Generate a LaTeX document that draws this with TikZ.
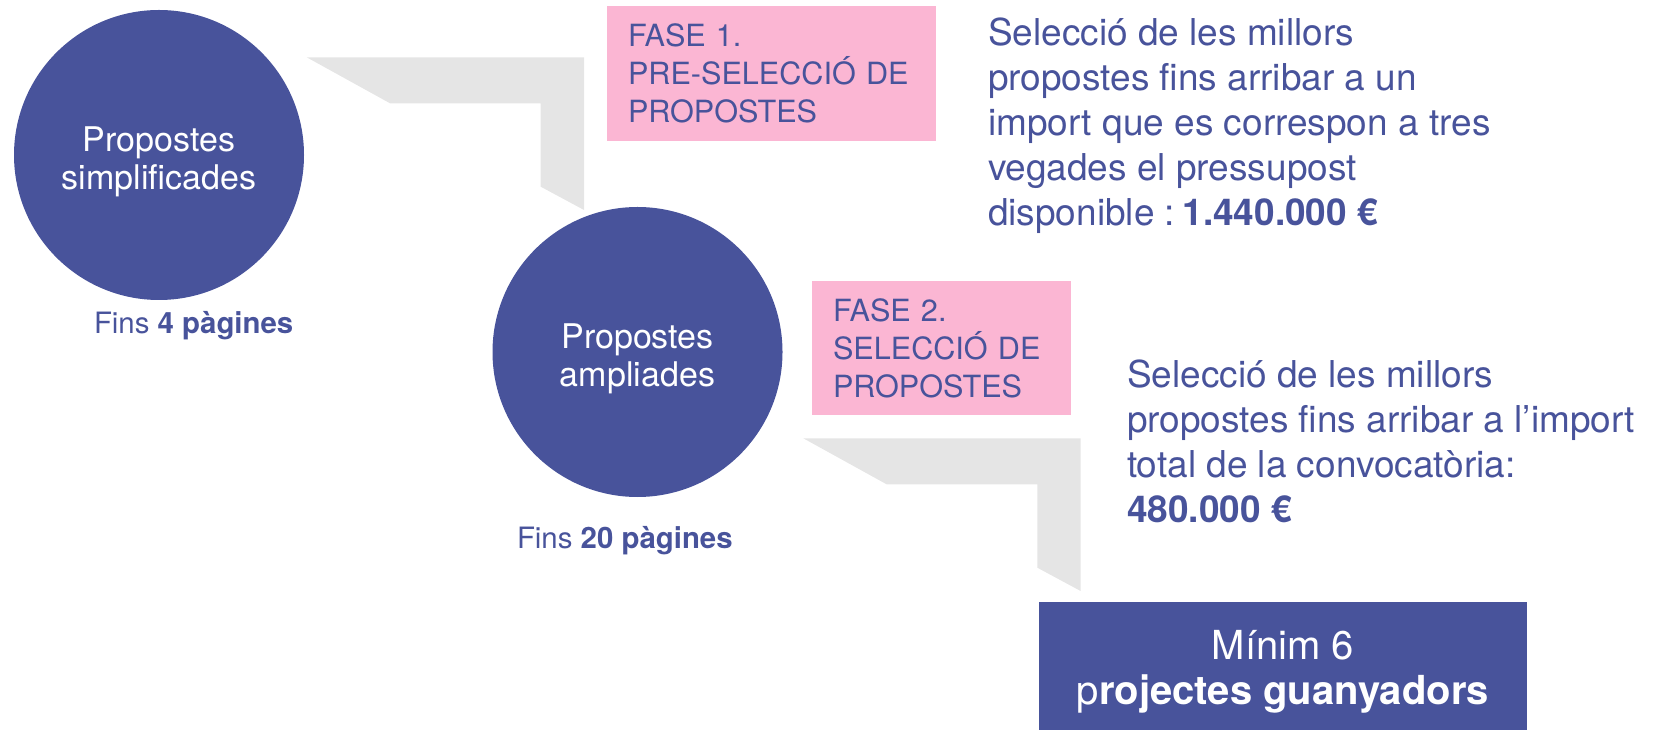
\documentclass[tikz,border=0pt]{standalone}
\usepackage{fontspec}
\setmainfont{TeX Gyre Heros}
\usepackage{tikz}
\usetikzlibrary{positioning}
\definecolor{fasesblue}{HTML}{48539B}
\definecolor{fasespink}{HTML}{FBB6D3}
\definecolor{fasesgray}{HTML}{E5E5E5}

\begin{document}
\begin{tikzpicture}[x=0.5pt, y=-0.5pt,
				every node/.append style={inner sep=0pt, outer sep=0pt},
				proposta/.style={circle, fill=fasesblue, minimum size=145pt},
				propostatext/.style={text=white, align=center, yshift=-3.2pt, font=\fontsize{17}{19}\selectfont},
				fasebox/.style={rectangle, fill=fasespink, text=fasesblue, anchor=north west, align=left, inner xsep=10.5pt, font=\fontsize{15.3}{19}\selectfont},
				nota/.style={anchor=base west, text=fasesblue, align=left, font=\fontsize{18.5}{22.5}\selectfont},
				pagines/.style={anchor=base west, text=fasesblue, font=\fontsize{14.7}{16}\selectfont},
				guanyadortext/.style={text=white, align=center, yshift=-3pt, font=\fontsize{20}{22.5}\selectfont},
				band/.style={fill=fasesgray}]
				\useasboundingbox (0,0) rectangle (1658,731);
				\foreach \ox/\oy in {306.7/57.3, 803.3/438.3}
					\fill[band] (\ox,\oy) -- ++(277.3,0) -- ++(0,152.7) -- ++(-43.3,-23.3) -- ++(0,-83.4) -- ++(-150.7,0) -- cycle;
				\node (Simplificades) [proposta, label={[propostatext]center:Propostes\\simplificades}] at (159,155) {};
				\node (Ampliades) [proposta, label={[propostatext]center:Propostes\\ampliades}] at (637.5,352) {};
				\node (Pag4) [pagines] at (94,334) {Fins \textbf{4 pàgines}};
				\node (Pag20) [pagines] at (517,548) {Fins \textbf{20 pàgines}};
				\node (Fase1) [fasebox, text width=143.5pt, minimum height=67.75pt] at (607,6) {FASE 1.\\PRE-SELECCIÓ DE\\PROPOSTES};
				\node (Fase2) [fasebox, text width=108.5pt, minimum height=67.25pt] at (812,281) {FASE 2.\\SELECCIÓ DE\\PROPOSTES};
				\node (Seleccio1) [nota] at (988,226) {Selecció de les millors\\propostes fins arribar a un\\import que es correspon a tres\\vegades el pressupost\\disponible :\hspace{0.2em}\textbf{1.440.000 €}};
				\node (Seleccio2) [nota] at (1127,523) {Selecció de les millors\\propostes fins arribar a l’import\\total de la convocatòria:\\\textbf{480.000 €}};
				\node (Guanyadors) [rectangle, fill=fasesblue, anchor=north west, minimum width=244pt, minimum height=64pt, label={[guanyadortext]center:Mínim 6\\p\textbf{rojectes guanyadors}}] at (1039,602) {};
\end{tikzpicture}
\end{document}
